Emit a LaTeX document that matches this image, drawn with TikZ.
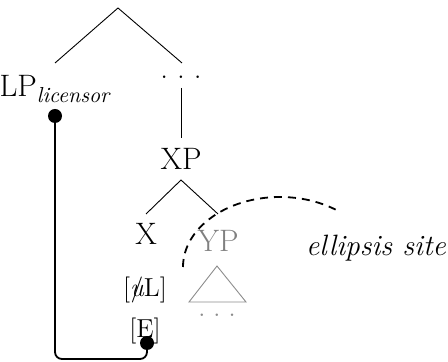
\documentclass[tikz,border=0pt]{standalone}
\usetikzlibrary{calc}
\begin{document}
\begin{tikzpicture}[x=0.5pt,y=-0.5pt,
  lab/.style={inner sep=0pt,font=\fontsize{15.5}{17}\selectfont},
  feat/.style={inner sep=0pt,font=\fontsize{13}{15}\selectfont},
  branch/.style={line width=0.45pt},
  dot/.style={circle,fill=black,inner sep=0pt,minimum size=7pt},
  conn/.style={line width=0.9pt,rounded corners=3.5pt},
  ell/.style={dashed,line width=0.9pt,dash pattern=on 4pt off 3pt}
]
\useasboundingbox (0,0) rectangle (448,362);
% tree
\coordinate (root) at (118,8);
\coordinate (lpTop) at (55,63);
\coordinate (dotsTop) at (182,63);
\node[lab,anchor=base] (lp) at (55,97) {LP\textsubscript{\itshape licensor}};
\node[lab,anchor=base] (dots) at (181,79) {.\hspace{4.5pt}.\hspace{4.5pt}.};
\coordinate (vTop) at (181,88);
\coordinate (vBot) at (181,138);
\node[lab,anchor=base] (xp) at (181,170) {XP};
\coordinate (xpBot) at (181,180);
\coordinate (xTop) at (146,214);
\coordinate (ypTop) at (218,214);
\node[lab,anchor=base] (x) at (146,245) {X};
\node[lab,anchor=base,text=black!50] (yp) at (218,252) {YP};
\coordinate (triA) at (217,266);
\coordinate (triL) at (189,302);
\coordinate (triR) at (246,302);
\node[feat,anchor=base,text=black!45] (tdots) at (217,316) {.\hspace{4pt}.\hspace{4pt}.};
\node[feat,anchor=base] (ul) at (145,297) {[\ooalign{\itshape u\cr\hidewidth/\hidewidth}L]};
\node[feat,anchor=base] (e) at (145,337) {[E]};
\node[font=\fontsize{14.7}{17}\selectfont,inner sep=0pt,anchor=base] (site) at (376,256) {\itshape ellipsis site};

\draw[branch] (lpTop) -- (root) -- (dotsTop);
\draw[branch] (vTop) -- (vBot);
\draw[branch] (xTop) -- (xpBot) -- (ypTop);
\draw[branch,draw=black!45] (triA) -- (triL) -- (triR) -- cycle;

% licensing connector
\node[dot] (b1) at (55,116) {};
\node[dot] (b2) at (147,343) {};
\coordinate (bot) at (100,359);
\draw[conn] (b1.center) -- (b1.center |- bot) -- (b2.center |- bot) -- (b2.center);

% ellipsis site arc
\coordinate (arcStart) at (183,267);
\draw[ell] (arcStart) arc[start angle=180,end angle=55,x radius=97,y radius=-70];
\end{tikzpicture}
\end{document}
